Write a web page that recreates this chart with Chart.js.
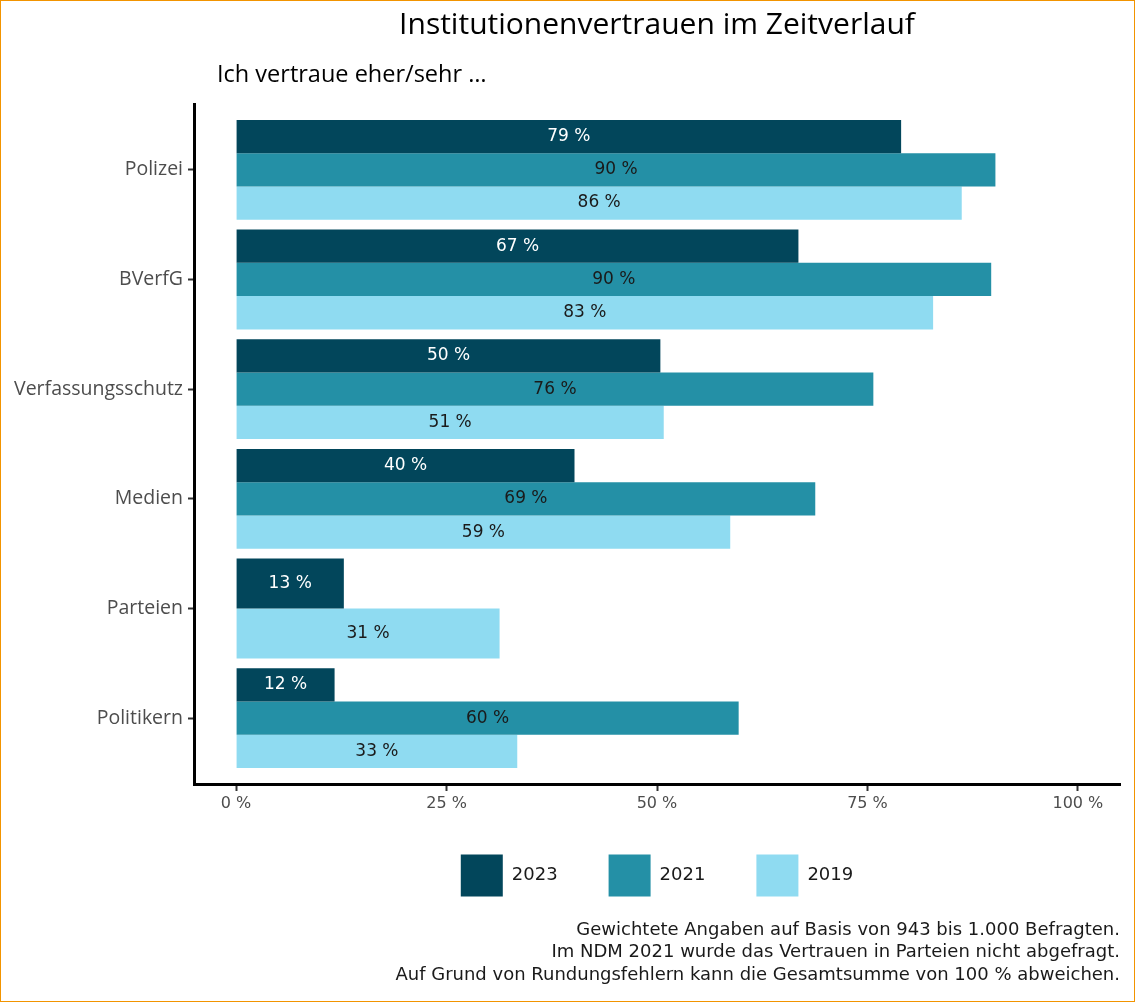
<!DOCTYPE html>
<html lang="de">
<head>
<meta charset="utf-8">
<title>Institutionenvertrauen im Zeitverlauf</title>
<script src="https://cdn.jsdelivr.net/npm/chart.js@4.4.1/dist/chart.umd.min.js"></script>
<style>
  html, body { margin: 0; padding: 0; background: #fff; }
  #frame { width: 1133px; height: 1000px; border: 1px solid #F29400; }
  canvas { display: block; }
</style>
</head>
<body>
<div id="frame"><canvas id="trustChart" width="1133" height="1000"></canvas></div>
<script>
// Daten (Anteil "vertraue eher/sehr", in %)
const categories = ["Polizei", "BVerfG", "Verfassungsschutz", "Medien", "Parteien", "Politikern"];
const years = ["2023", "2021", "2019"];
const values2023 = [79.0, 66.8, 50.4, 40.2, 12.8, 11.7];
const values2021 = [90.2, 89.7, 75.7, 68.8, null, 59.7]; // Parteien 2021 nicht abgefragt
const values2019 = [86.2, 82.8, 50.8, 58.7, 31.3, 33.4];
const xTicks = [0, 25, 50, 75, 100];

const titleText = "Institutionenvertrauen im Zeitverlauf";
const subtitle = "Ich vertraue eher/sehr …";
const footnote = [
    "Gewichtete Angaben auf Basis von 943 bis 1.000 Befragten.",
    "Im NDM 2021 wurde das Vertrauen in Parteien nicht abgefragt.",
    "Auf Grund von Rundungsfehlern kann die Gesamtsumme von 100 % abweichen."
];
const colors = ["#02465B", "#2490A6", "#8FDBF1"];
const labelFont = '"DejaVu Sans", sans-serif';

const toPoints = (values) => values.map((v, i) => ({ x: v, y: i }));

// Subtitle above the panel, plus room for the x tick labels below the axis
const subtitlePlugin = {
    id: "subtitleText",
    afterLayout(chart) {
        // tick labels are clipped to the scale box; give them room without moving the legend
        chart.scales.x.bottom = chart.scales.x.top + 40;
    },
    afterDraw(chart) {
        const ctx = chart.ctx;
        ctx.save();
        ctx.font = '23.5px "Open Sans"';
        ctx.fillStyle = "#000";
        ctx.textBaseline = "middle";
        ctx.fillText(subtitle, chart.chartArea.left + 23, 74);
        ctx.restore();
    }
};

// Value labels in the middle of each bar
const barLabels = {
    id: "barLabels",
    afterDatasetsDraw(chart) {
        const ctx = chart.ctx;
        ctx.save();
        ctx.font = "17px " + labelFont;
        ctx.textAlign = "center";
        ctx.textBaseline = "middle";
        chart.data.datasets.forEach((ds, i) => {
            chart.getDatasetMeta(i).data.forEach((bar, j) => {
                const v = ds.data[j].x;
                if (v === null) return;
                ctx.fillStyle = i === 0 ? "#FFFFFF" : "#1A1A1A";
                ctx.fillText(Math.round(v) + " %", (bar.x + bar.base) / 2, bar.y);
            });
        });
        ctx.restore();
    }
};

Chart.defaults.font.family = '"Open Sans", sans-serif';

new Chart(document.getElementById("trustChart"), {
    type: "bar",
    data: {
        datasets: [
            { label: years[0], data: toPoints(values2023), backgroundColor: colors[0] },
            { label: years[1], data: toPoints(values2021), backgroundColor: colors[1] },
            { label: years[2], data: toPoints(values2019), backgroundColor: colors[2] }
        ]
    },
    options: {
        indexAxis: "y",
        responsive: false,
        animation: false,
        datasets: {
            bar: { skipNull: true, categoryPercentage: 0.91, barPercentage: 1, borderWidth: 0 }
        },
        layout: { padding: { left: 0, right: 14, top: 0, bottom: 0 } },
        scales: {
            x: {
                type: "linear",
                min: -5,
                max: 105,
                afterBuildTicks: (scale) => { scale.ticks = xTicks.map(v => ({ value: v })); },
                afterFit: (scale) => { scale.height = 19.5; },
                ticks: {
                    callback: (v) => v + " %",
                    color: "#4D4D4D",
                    font: { family: labelFont, size: 16 },
                    padding: 3,
                    maxRotation: 0
                },
                grid: { drawOnChartArea: false, drawTicks: true, tickLength: 7, tickColor: "#333", tickWidth: 2 },
                border: { color: "#000", width: 3 }
            },
            y: {
                type: "linear",
                min: -0.6,
                max: 5.6,
                reverse: true,
                offset: false,
                afterBuildTicks: (scale) => { scale.ticks = categories.map((c, i) => ({ value: i })); },
                afterFit: (scale) => { scale.width = 193; },
                ticks: {
                    callback: (v) => categories[v],
                    color: "#4D4D4D",
                    font: { size: 19.5 },
                    padding: 5
                },
                grid: { offset: false, drawOnChartArea: false, drawTicks: true, tickLength: 6, tickColor: "#333", tickWidth: 2 },
                border: { color: "#000", width: 3 }
            }
        },
        plugins: {
            tooltip: { enabled: false },
            title: {
                display: true,
                text: titleText,
                fullSize: false,
                color: "#000",
                font: { size: 30, weight: "normal" },
                padding: { top: 6, bottom: 61 }
            },
            subtitle: {
                display: true,
                text: footnote,
                position: "bottom",
                align: "end",
                color: "#1A1A1A",
                font: { family: labelFont, size: 18, weight: "normal", lineHeight: 1.25 },
                padding: { top: 12.5, bottom: 14.5 }
            },
            legend: {
                position: "bottom",
                fullSize: false,
                labels: {
                    boxWidth: 42,
                    boxHeight: 42,
                    padding: 51,
                    color: "#1A1A1A",
                    font: { family: labelFont, size: 18 }
                }
            }
        }
    },
    plugins: [subtitlePlugin, barLabels]
});
</script>
</body>
</html>
